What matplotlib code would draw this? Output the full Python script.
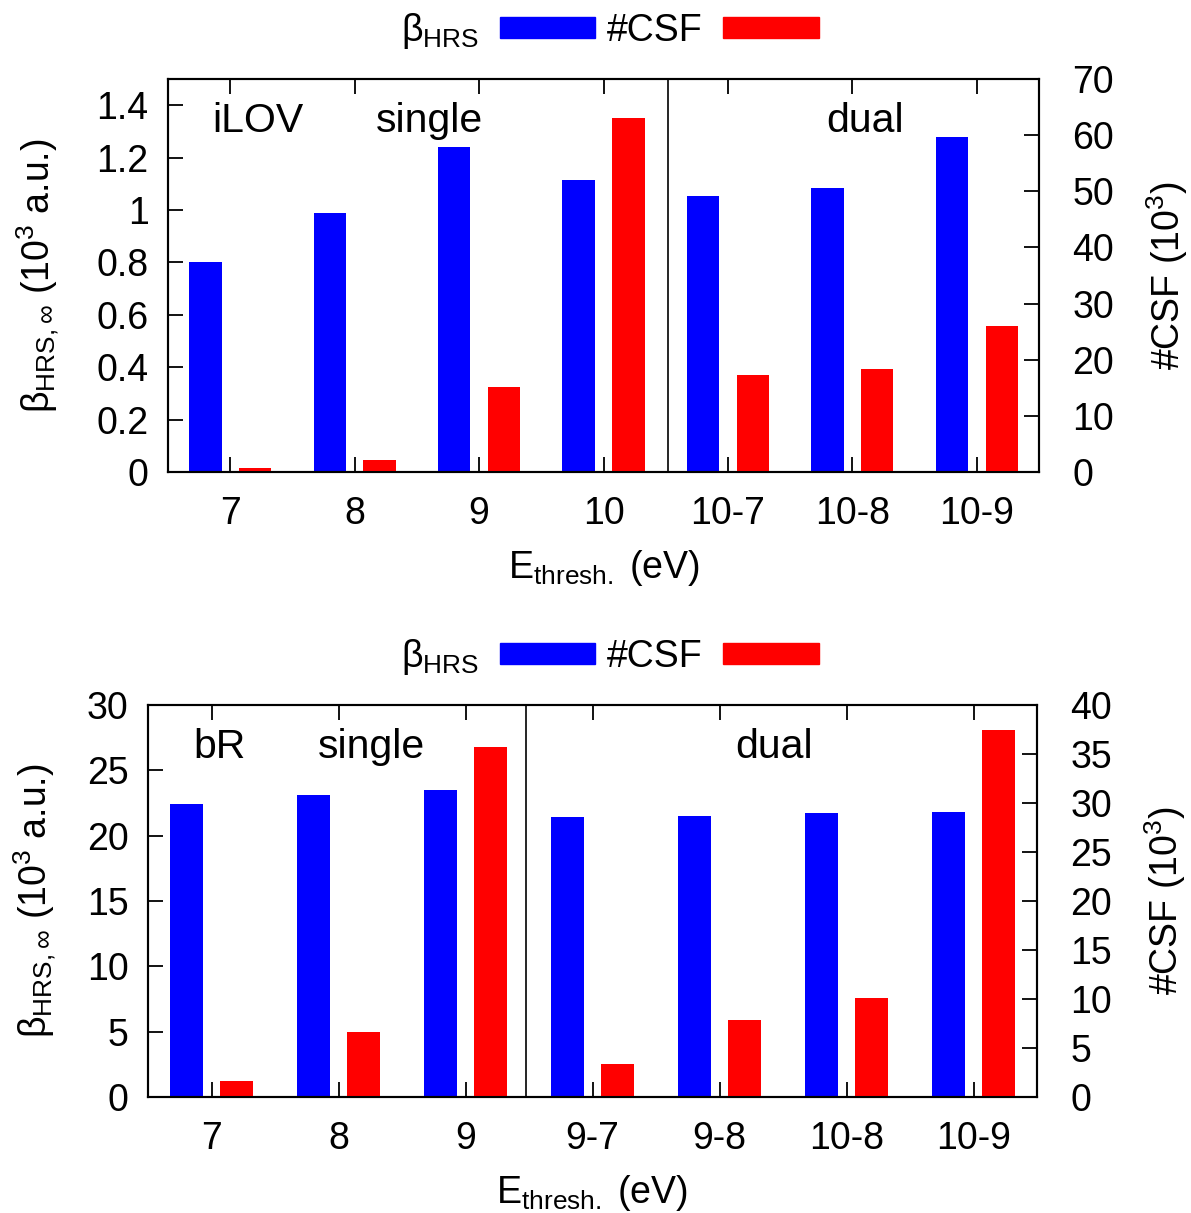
import matplotlib
matplotlib.use('Agg')
import matplotlib.pyplot as plt
import numpy as np
from matplotlib.patches import Patch

plt.rcParams['font.family'] = ['Liberation Sans', 'DejaVu Sans']
plt.rcParams['mathtext.fontset'] = 'custom'
plt.rcParams['mathtext.rm'] = 'Liberation Sans'
plt.rcParams['mathtext.it'] = 'Liberation Sans:italic'
plt.rcParams['mathtext.bf'] = 'Liberation Sans:bold'

# iLOV panel
ilov_labels = ['7', '8', '9', '10', '10-7', '10-8', '10-9']
ilov_beta = [0.80, 0.987, 1.242, 1.115, 1.055, 1.085, 1.279]
ilov_csf = [0.7, 2.1, 15.1, 63.0, 17.3, 18.3, 26.0]

# bR panel
br_labels = ['7', '8', '9', '9-7', '9-8', '10-8', '10-9']
br_beta = [22.4, 23.1, 23.5, 21.4, 21.5, 21.7, 21.85]
br_csf = [1.6, 6.6, 35.7, 3.4, 7.9, 10.1, 37.4]

FS = 27
blue = '#0000ff'
red = '#ff0000'


def panel(rect, labels, beta, csf, ylim, yticks, yticklabels, ylim2, yticks2,
          split, name, name_x, single_x, dual_x, ylabpad):
    ax = fig.add_axes(rect)
    x = np.arange(len(labels))
    w = 0.26
    ax.bar(x - 0.2, beta, width=w, color=blue, linewidth=0)
    ax2 = ax.twinx()
    ax2.bar(x + 0.2, csf, width=w, color=red, linewidth=0)

    ax.set_xlim(-0.5, len(labels) - 0.5)
    ax.set_ylim(*ylim)
    ax.set_yticks(yticks)
    ax.set_yticklabels(yticklabels)
    ax2.set_ylim(*ylim2)
    ax2.set_yticks(yticks2)
    ax.set_xticks(x)
    ax.set_xticklabels(labels)
    ax.tick_params(axis='both', direction='in', length=11, width=1.3,
                   labelsize=FS)
    ax.tick_params(axis='x', top=True, pad=17)
    ax.tick_params(axis='y', right=False, pad=14)
    ax2.tick_params(axis='y', direction='in', length=11, width=1.3,
                    labelsize=FS, pad=24)
    for a in (ax, ax2):
        for s in a.spines.values():
            s.set_linewidth(1.5)

    ax.axvline(split, color='black', linewidth=1.2)

    ytop = ylim[1]
    for tx, s in ((name_x, name), (single_x, 'single'), (dual_x, 'dual')):
        ax.text(tx, ytop * 0.892, s, fontsize=29.5, ha='center', va='center')

    ax.set_ylabel(r'β$_{\rm HRS,\infty}$ (10$^3$ a.u.)', fontsize=FS, labelpad=ylabpad)
    ax2.set_ylabel(r'#CSF (10$^3$)', fontsize=FS, labelpad=22)
    ax.set_xlabel(r'E$_{\rm thresh.}$ (eV)', fontsize=FS, labelpad=12)

    # legend centred horizontally on the figure, just above the panel
    handles = [Patch(color=blue), Patch(color=red)]
    top = rect[1] + rect[3]
    fig.legend(handles, [r'β$_{\rm HRS}$', '#CSF'], ncol=2, markerfirst=False,
               loc='lower center', bbox_to_anchor=(0.512, top),
               bbox_transform=fig.transFigure, frameon=False,
               fontsize=FS, handlelength=2.55, handleheight=0.5,
               handletextpad=0.55, columnspacing=0.3, borderaxespad=0.35)
    return ax


fig = plt.figure(figsize=(11.91, 12.13), dpi=100)

panel([0.1411, 0.6109, 0.7313, 0.3240], ilov_labels, ilov_beta, ilov_csf,
      (0, 1.5), [0, 0.2, 0.4, 0.6, 0.8, 1.0, 1.2, 1.4],
      ['0', '0.2', '0.4', '0.6', '0.8', '1', '1.2', '1.4'],
      (0, 70), np.arange(0, 71, 10),
      3.52, 'iLOV', 0.22, 1.6, 5.1, 25)

panel([0.1243, 0.0956, 0.7464, 0.3232], br_labels, br_beta, br_csf,
      (0, 30), np.arange(0, 31, 5), [str(v) for v in range(0, 31, 5)],
      (0, 40), np.arange(0, 41, 5),
      2.48, 'bR', 0.06, 1.26, 4.43, 20)

fig.savefig('out.png', dpi=100)
